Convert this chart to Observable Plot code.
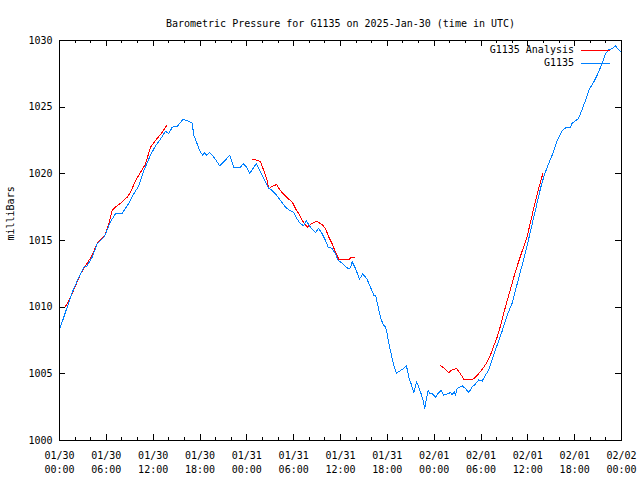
<!DOCTYPE html>
<html>
<head>
<meta charset="utf-8">
<script src="https://cdn.jsdelivr.net/npm/d3@7"></script>
<script src="https://cdn.jsdelivr.net/npm/@observablehq/plot@0.6"></script>
<style>
  html, body { margin: 0; padding: 0; background: #fff; }
  svg { display: block; }
</style>
</head>
<body>
<div id="chart"></div>
<script>
// ---- Data (hours since 2025-01-30 00:00 UTC, pressure in milliBars) ----
const obsHours = [0.0,0.55,0.98,1.62,2.48,3.12,3.54,4.19,4.83,5.68,5.9,6.53,7.17,8.03,8.45,8.88,9.52,10.16,10.8,11.66,12.3,12.94,13.58,14.0,14.43,15.07,15.84,16.7,17.0,17.2,17.64,18.06,18.36,18.6,18.83,19.26,19.77,20.54,21.05,21.82,22.33,22.76,23.19,23.53,23.96,24.38,24.69,25.2,25.53,25.97,26.39,26.82,27.25,27.8,28.3,28.95,29.37,30.0,30.45,30.87,31.3,31.6,32.15,32.8,33.2,33.65,34.08,34.42,34.94,35.36,35.7,36.2,36.64,36.98,37.28,37.5,37.92,38.43,38.86,39.4,39.84,40.27,40.5,40.83,41.12,41.42,41.76,41.98,42.28,42.53,42.83,43.17,43.68,44.1,44.45,44.75,45.05,45.39,45.73,46.03,46.33,46.59,46.8,47.0,47.23,47.44,47.74,48.17,48.6,48.9,49.23,49.74,50.1,50.3,50.6,50.73,50.94,51.58,52.01,52.43,52.86,53.3,53.72,54.15,54.57,55.0,55.43,55.85,56.28,56.71,57.13,57.69,57.99,58.84,59.7,60.34,60.98,61.62,62.05,62.48,63.12,63.76,64.4,64.95,65.46,65.68,66.4,66.74,67.38,67.8,68.45,68.88,69.39,69.95,70.37,70.8,71.22,71.65,72.0];
const obsPressure = [1008.3,1009.25,1010.0,1011.1,1012.25,1013.0,1013.1,1013.75,1014.75,1015.25,1015.5,1016.4,1017.0,1017.05,1017.4,1017.8,1018.5,1019.1,1020.25,1021.4,1022.1,1022.6,1023.2,1023.0,1023.5,1023.55,1024.1,1023.9,1023.8,1022.9,1022.25,1021.6,1021.4,1021.6,1021.4,1021.6,1021.25,1020.6,1020.9,1021.4,1020.5,1020.5,1020.5,1020.75,1020.5,1020.05,1020.3,1020.75,1020.4,1019.9,1019.4,1018.9,1018.75,1018.4,1018.0,1017.5,1017.3,1017.1,1016.6,1016.25,1016.1,1016.5,1016.0,1015.6,1015.9,1015.5,1015.0,1014.5,1014.4,1014.0,1013.5,1013.3,1013.05,1012.9,1012.95,1013.4,1012.9,1012.1,1012.5,1012.1,1011.5,1010.9,1010.9,1010.0,1009.25,1008.75,1008.5,1008.0,1007.0,1006.4,1005.6,1005.05,1005.25,1005.4,1005.6,1004.75,1004.25,1003.6,1004.4,1004.0,1003.5,1003.0,1002.4,1003.1,1003.75,1003.5,1003.5,1003.25,1003.6,1003.75,1003.4,1003.5,1003.6,1003.4,1003.7,1003.35,1003.9,1004.1,1003.9,1003.6,1004.0,1004.25,1004.55,1004.45,1004.9,1005.3,1006.1,1006.8,1007.5,1008.2,1009.0,1009.9,1010.3,1012.2,1014.1,1015.7,1017.3,1018.9,1019.8,1020.5,1021.4,1022.5,1023.25,1023.5,1023.5,1023.8,1024.1,1024.5,1025.5,1026.25,1026.9,1027.4,1028.1,1029.0,1029.3,1029.4,1029.6,1029.3,1029.1];

const anaHours = [0.77,1.41,2.05,2.69,3.33,4.19,4.83,5.68,5.9,6.32,6.75,7.17,8.03,8.67,9.1,9.74,10.38,11.02,11.66,12.3,13.07,13.71,
  24.77,25.4,25.75,26.17,26.6,26.82,27.25,27.8,28.3,28.74,29.37,29.8,30.23,30.66,31.09,31.73,32.15,32.88,33.65,34.08,34.5,34.94,35.36,35.78,37.19,37.28,37.83,
  48.81,49.23,49.87,50.3,50.86,51.37,51.8,52.43,52.86,53.29,53.84,54.36,54.79,55.21,55.64,56.07,56.5,56.93,57.56,58.42,59.27,59.91,60.55,61.2,61.91];
const anaPressure = [1010.05,1010.75,1011.6,1012.5,1013.1,1013.9,1014.8,1015.3,1015.5,1016.25,1017.25,1017.5,1017.9,1018.25,1018.6,1019.5,1020.1,1020.75,1022.0,1022.5,1023.05,1023.6,
  1021.1,1021.0,1020.9,1020.25,1019.5,1018.9,1019.05,1019.2,1018.75,1018.45,1018.1,1017.9,1017.4,1017.0,1016.5,1016.0,1016.2,1016.45,1016.2,1015.9,1015.25,1014.75,1014.1,1013.6,1013.6,1013.75,1013.75,
  1005.6,1005.45,1005.1,1005.3,1005.4,1005.0,1004.6,1004.55,1004.55,1004.75,1005.1,1005.5,1005.9,1006.4,1007.1,1007.75,1008.6,1009.6,1010.9,1012.7,1014.2,1015.3,1016.9,1018.5,1020.0];
const anaSegment = [...Array(22).fill(1), ...Array(27).fill(2), ...Array(25).fill(3)];

const xMajorHours = [0,6,12,18,24,30,36,42,48,54,60,66,72];
const xMinorHours = [2,4,8,10,14,16,20,22,26,28,32,34,38,40,44,46,50,52,56,58,62,64,68,70];
const xTickDates = ["01/30","01/30","01/30","01/30","01/31","01/31","01/31","01/31","02/01","02/01","02/01","02/01","02/02"];
const xTickTimes = ["00:00","06:00","12:00","18:00","00:00","06:00","12:00","18:00","00:00","06:00","12:00","18:00","00:00"];
const yTicks = [1000,1005,1010,1015,1020,1025,1030];

const titleText = "Barometric Pressure for G1135 on 2025-Jan-30 (time in UTC)";
const yLabelText = "milliBars";
const seriesNames = ["G1135 Analysis", "G1135"];
const seriesColors = ["#ff0000", "#0080ff"];

// ---- Build tables ----
const obs = obsHours.map((h, i) => ({h, p: obsPressure[i]}));
const ana = anaHours.map((h, i) => ({h, p: anaPressure[i], s: anaSegment[i]}));
const xLabels = xMajorHours.map((h, i) => ({h, t: xTickDates[i] + "\n" + xTickTimes[i]}));

const W = 640, H = 480, mT = 40, mB = 40, mL = 59, mR = 19;
const plotW = W - mL - mR, plotH = H - mT - mB;
const font = "'DejaVu Sans Mono', 'Liberation Mono', monospace";

const chart = Plot.plot({
  width: W, height: H,
  marginTop: mT, marginBottom: mB, marginLeft: mL, marginRight: mR,
  style: {fontFamily: font, fontSize: "10px", background: "#fff", color: "#000", overflow: "visible"},
  x: {type: "linear", domain: [0, 72], axis: null},
  y: {type: "linear", domain: [1000, 1030], axis: null},
  marks: [
    // ticks (inward, mirrored on all sides)
    Plot.ruleX(xMinorHours, {insetTop: plotH - 3, stroke: "#000", shapeRendering: "crispEdges"}),
    Plot.ruleX(xMinorHours, {insetBottom: plotH - 3, stroke: "#000", shapeRendering: "crispEdges"}),
    Plot.ruleX(xMajorHours, {insetTop: plotH - 6, stroke: "#000", shapeRendering: "crispEdges"}),
    Plot.ruleX(xMajorHours, {insetBottom: plotH - 6, stroke: "#000", shapeRendering: "crispEdges"}),
    Plot.ruleY(yTicks, {insetRight: plotW - 6, stroke: "#000", shapeRendering: "crispEdges"}),
    Plot.ruleY(yTicks, {insetLeft: plotW - 6, stroke: "#000", shapeRendering: "crispEdges"}),
    // series
    Plot.line(ana, {x: "h", y: "p", z: "s", stroke: seriesColors[0], strokeWidth: 1, shapeRendering: "crispEdges"}),
    Plot.line(obs, {x: "h", y: "p", stroke: seriesColors[1], strokeWidth: 1, shapeRendering: "crispEdges"}),
    Plot.frame({stroke: "#000", shapeRendering: "crispEdges"}),
    // tick labels
    Plot.text(xLabels, {x: "h", text: "t", frameAnchor: "bottom", lineAnchor: "top", dy: 9, lineHeight: 1.4, fill: "#000"}),
    Plot.text(yTicks, {y: d => d, text: d => String(d), frameAnchor: "left", textAnchor: "end", dx: -7, fill: "#000"}),
    // title & y label
    Plot.text([titleText], {frameAnchor: "top", dy: -21, fill: "#000"}),
    Plot.text([yLabelText], {frameAnchor: "left", rotate: -90, dx: -49, fill: "#000"})
  ]
});

// legend (top-right inside the frame, gnuplot style)
const svg = d3.select(chart);
const lg = svg.append("g").attr("font-family", font).attr("font-size", 10);
seriesNames.forEach((name, i) => {
  const cy = 50 + i * 13;
  lg.append("text").attr("x", 574).attr("y", cy).attr("dy", "0.32em")
    .attr("text-anchor", "end").attr("fill", "#000").text(name);
  lg.append("line").attr("x1", 581).attr("x2", 610).attr("y1", cy + 0.5).attr("y2", cy + 0.5)
    .attr("stroke", seriesColors[i]).attr("stroke-width", 1).attr("shape-rendering", "crispEdges");
});

document.getElementById("chart").appendChild(chart);
</script>
</body>
</html>
